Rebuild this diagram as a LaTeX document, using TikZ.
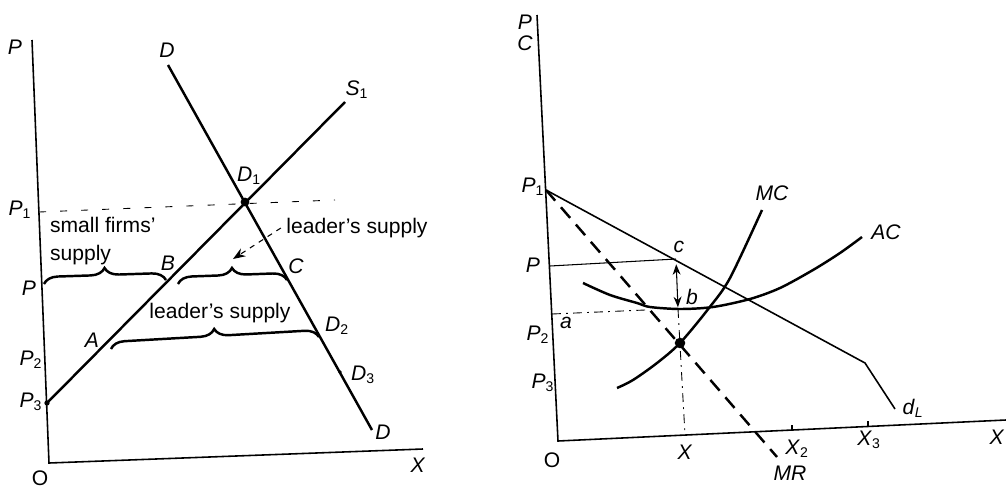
\documentclass[tikz,border=0pt]{standalone}
\usepackage{fontspec}
\setmainfont{Liberation Sans}
\usepackage{tikz}
\usetikzlibrary{arrows.meta, decorations.pathreplacing}

\newcommand{\lbl}[2]{\textit{#1}\textsubscript{#2}}

\begin{document}
\begin{tikzpicture}[x=0.02cm, y=-0.02cm,
  every node/.style={font=\fontsize{12}{16}\selectfont, inner sep=1pt},
  axisline/.style={line width=0.9pt},
  bigline/.style={line width=1.4pt},
  midline/.style={line width=0.9pt},
  thinline/.style={line width=0.6pt},
  bracebar/.style={decorate, decoration={brace, amplitude=8pt}, line width=1.4pt},
  guideline/.style={line width=0.5pt, dash pattern=on 4pt off 8pt},
  mrline/.style={line width=1.4pt, dash pattern=on 8pt off 5pt},
  dashdotline/.style={line width=0.5pt, dash pattern=on 5pt off 3pt on 1pt off 3pt},
  dotmark/.style={circle, fill, inner sep=0pt, minimum size=#1}]
  \useasboundingbox (0,0) rectangle (1006,490);

  % left diagram: dominant firm and small firms
  \coordinate (PL) at (32,40);
  \coordinate (OL) at (49,463);
  \coordinate (XL) at (423,449);
  \coordinate (P3pt) at (47,403);
  \coordinate (S1end) at (345,102);
  \coordinate (Dtop) at (168,65);
  \coordinate (Dbot) at (372,430);
  \coordinate (D1) at (245,202);
  \coordinate (P1ax) at (39,212);
  \coordinate (P1end) at (335,200);
  \coordinate (Pax) at (44,284);
  \coordinate (B) at (166,280);
  \coordinate (Bnext) at (178,284);
  \coordinate (C) at (287,280);
  \coordinate (A) at (111,349);
  \coordinate (D2) at (319,337);
  \coordinate (D3) at (340,372);
  \coordinate (tipC) at (233,259);

  \draw[axisline] (PL) -- (OL) -- (XL);
  \draw[bigline] (P3pt) -- (S1end);
  \draw[bigline] (Dtop) -- (Dbot);
  \draw[guideline] (P1ax) -- (P1end);
  \draw[bracebar] (Pax) -- (B);
  \draw[bracebar] (Bnext) -- (C);
  \draw[bracebar] (A) -- (D2);
  \node[dotmark=5pt] (dotD1) at (D1) {};
  \node[dotmark=3pt] (dotP3) at (P3pt) {};
  \node[dotmark=2pt] (dotD3) at (D3) {};

  \node (labPL) at (15,47) {\textit{P}};
  \node (labOL) at (40,478) {O};
  \node (labXL) at (418,465) {\textit{X}};
  \node (labDtop) at (167,50) {\textit{D}};
  \node (labDbot) at (383,432) {\textit{D}};
  \node (labS1) at (357,90) {\lbl{S}{1}};
  \node (labD1) at (249,176) {\lbl{D}{1}};
  \node (labD2) at (337,326) {\lbl{D}{2}};
  \node (labD3) at (363,375) {\lbl{D}{3}};
  \node (labP1L) at (20,210) {\lbl{P}{1}};
  \node (labPLp) at (29,288) {\textit{P}};
  \node (labP2L) at (31,360) {\lbl{P}{2}};
  \node (labP3L) at (31,402) {\lbl{P}{3}};
  \node (labA) at (92,340) {\textit{A}};
  \node (labB) at (168,263) {\textit{B}};
  \node (labC) at (296,266) {\textit{C}};
  \node[align=left, anchor=west] (smallF) at (48,241) {small firms'\\supply};
  \node (leadL) at (220,313) {leader's supply};
  \node (leadU) at (357,228) {leader's supply};
  \draw[thinline, dashed, -{Stealth[length=7pt]}] ([xshift=-2pt]leadU.west) -- (tipC);

  % right diagram: the leader's own costs
  \coordinate (PR) at (537,15);
  \coordinate (OR) at (558,441);
  \coordinate (XR) at (1006,420);
  \coordinate (Q1) at (546,190);
  \coordinate (Qp) at (550,266);
  \coordinate (c) at (676,259);
  \coordinate (kink) at (865,363);
  \coordinate (dLend) at (895,409);
  \coordinate (MRend) at (777,457);
  \coordinate (b) at (678,309);
  \coordinate (e) at (680,343);
  \coordinate (a) at (552,314);
  \coordinate (aend) at (645,310);
  \coordinate (X) at (685,435);
  \coordinate (X2) at (792,430);
  \coordinate (X3) at (868,426);

  \draw[axisline] (PR) -- (OR) -- (XR);
  \draw[midline] (Q1) -- (kink) -- (dLend);
  \draw[mrline] (Q1) -- (MRend);
  \draw[thinline] (Qp) -- (c);
  \draw[dashdotline] (a) -- (aend);
  \draw[dashdotline] (b) -- (X);
  \draw[thinline, {Stealth[length=6pt]}-{Stealth[length=6pt]}, shorten <=3pt, shorten >=1pt] (c) -- (b);
  \draw[bigline] plot[smooth] coordinates {(617,388) (633,380) (657,363) (680,343) (709,308) (730,278) (762,210)};
  \draw[bigline] plot[smooth] coordinates {(583,283) (610,295) (637,303) (650,307) (680,309) (713,307) (750,299) (780,288) (813,270) (840,253) (862,237)};
  \draw[thinline] (X2) -- ++(0,-5);
  \draw[thinline] (X3) -- ++(0,-5);
  \node[dotmark=6pt] (dotE) at (e) {};

  \node (labPR) at (525,22) {\textit{P}};
  \node (labCR) at (525,43) {\textit{C}};
  \node (labP1R) at (533,187) {\lbl{P}{1}};
  \node (labPR2) at (533,265) {\textit{P}};
  \node (labP2R) at (538,335) {\lbl{P}{2}};
  \node (labP3R) at (543,383) {\lbl{P}{3}};
  \node (laba) at (566,323) {\textit{a}};
  \node (labb) at (692,297) {\textit{b}};
  \node (labc) at (679,247) {\textit{c}};
  \node (labMC) at (772,193) {\textit{MC}};
  \node (labAC) at (886,232) {\textit{AC}};
  \node (labdL) at (913,408) {\textit{d}\textsubscript{\textit{L}}};
  \node (labOR) at (552,460) {O};
  \node (labX) at (685,452) {\textit{X}};
  \node (labX2) at (797,449) {\lbl{X}{2}};
  \node (labX3) at (869,440) {\lbl{X}{3}};
  \node (labMR) at (790,473) {\textit{MR}};
  \node (labXR) at (997,437) {\textit{X}};
\end{tikzpicture}
\end{document}
